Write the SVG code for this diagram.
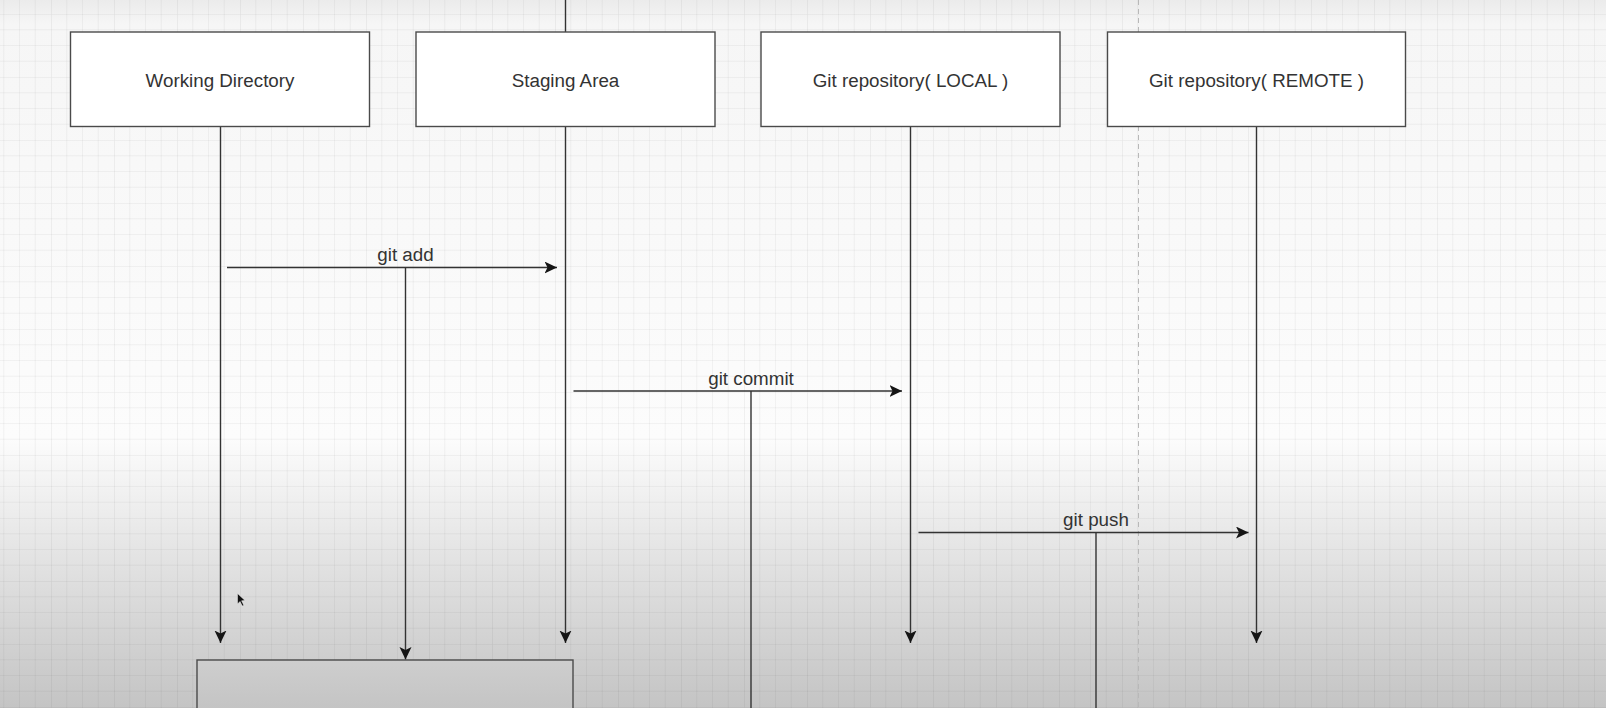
<svg xmlns="http://www.w3.org/2000/svg" width="1606" height="708" viewBox="0 0 1606 708">
<defs>
  <linearGradient id="bg" x1="0" y1="0" x2="0" y2="708" gradientUnits="userSpaceOnUse">
    <stop offset="0" stop-color="#ebebeb"/>
    <stop offset="0.035" stop-color="#f6f6f6"/>
    <stop offset="0.62" stop-color="#fcfcfc"/>
    <stop offset="0.72" stop-color="#ededed"/>
    <stop offset="0.85" stop-color="#dadada"/>
    <stop offset="1" stop-color="#c4c4c4"/>
  </linearGradient>
  <pattern id="grid" patternUnits="userSpaceOnUse" x="51" y="14" width="63" height="63">
    <path d="M15.75 0V63M31.5 0V63M47.25 0V63M0 15.75H63M0 31.5H63M0 47.25H63" stroke="#000" stroke-opacity="0.04" stroke-width="1" fill="none"/>
    <path d="M0 0V63M0 0H63" stroke="#000" stroke-opacity="0.075" stroke-width="1.2" fill="none"/>
  </pattern>
  <marker id="arr" markerUnits="userSpaceOnUse" markerWidth="14" markerHeight="14" refX="12.5" refY="6" orient="auto">
    <path d="M0,0 L12.5,6 L0,12 L3,6 Z" fill="#151515"/>
  </marker>
  <style>
    .box { fill: #ffffff; stroke: #4a4a4a; stroke-width: 1.4; }
    .lbl { font-family: "Liberation Sans", Arial, sans-serif; font-size: 18.8px; fill: #333333; text-anchor: middle; dominant-baseline: central; }
    .ln { stroke: #333333; stroke-width: 1.4; fill: none; }
  </style>
</defs>
<rect x="0" y="0" width="1606" height="708" fill="url(#bg)"/>
<rect x="0" y="0" width="1606" height="708" fill="url(#grid)"/>
<line x1="1138.5" y1="0" x2="1138.5" y2="708" stroke="#b8b8b8" stroke-width="1" stroke-dasharray="5 4"/>

<g id="connectors">
  <line class="ln" x1="565.5" y1="0" x2="565.5" y2="32"/>
  <line class="ln" x1="220.5" y1="126.5" x2="220.5" y2="643" marker-end="url(#arr)"/>
  <line class="ln" x1="565.5" y1="126.5" x2="565.5" y2="643" marker-end="url(#arr)"/>
  <line class="ln" x1="910.5" y1="126.5" x2="910.5" y2="643" marker-end="url(#arr)"/>
  <line class="ln" x1="1256.5" y1="126.5" x2="1256.5" y2="643" marker-end="url(#arr)"/>
  <line class="ln" x1="227" y1="267.5" x2="557" y2="267.5" marker-end="url(#arr)"/>
  <line class="ln" x1="573.5" y1="391" x2="902" y2="391" marker-end="url(#arr)"/>
  <line class="ln" x1="918.5" y1="532.5" x2="1248.5" y2="532.5" marker-end="url(#arr)"/>
  <line class="ln" x1="405.5" y1="267.5" x2="405.5" y2="659.5" marker-end="url(#arr)"/>
  <line class="ln" x1="751" y1="391" x2="751" y2="708"/>
  <line class="ln" x1="1096" y1="532.5" x2="1096" y2="708"/>
  <text class="lbl" x="405.5" y="254">git add</text>
  <text class="lbl" x="751" y="378">git commit</text>
  <text class="lbl" x="1096" y="519">git push</text>
</g>

<g id="working-directory">
  <rect class="box" x="70.5" y="32" width="299" height="94.5"/>
  <text class="lbl" x="220" y="80">Working Directory</text>
</g>
<g id="staging-area">
  <rect class="box" x="416" y="32" width="299" height="94.5"/>
  <text class="lbl" x="565.5" y="80">Staging Area</text>
</g>
<g id="git-local">
  <rect class="box" x="761" y="32" width="299" height="94.5"/>
  <text class="lbl" x="910.5" y="80">Git repository( LOCAL )</text>
</g>
<g id="git-remote">
  <rect class="box" x="1107.5" y="32" width="298" height="94.5"/>
  <text class="lbl" x="1256.5" y="80">Git repository( REMOTE )</text>
</g>
<g id="note">
  <rect x="197" y="660" width="376" height="60" fill="url(#bg)" stroke="#4a4a4a" stroke-width="1.4"/>
</g>
<path d="M237.5,593.5 L237.5,604 L240,601.5 L242.3,606 L243.8,605.2 L241.6,600.8 L245,600.5 Z" fill="#111" stroke="#eee" stroke-width="0.5"/>
</svg>
